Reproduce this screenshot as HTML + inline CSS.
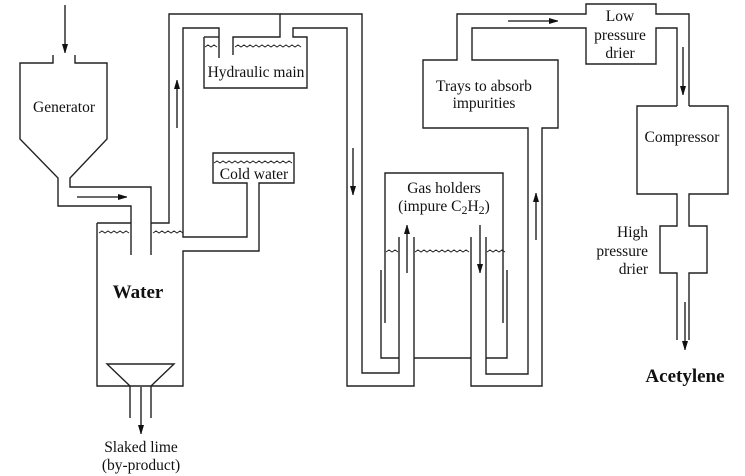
<!DOCTYPE html>
<html><head><meta charset="utf-8"><style>
html,body{margin:0;padding:0;background:#fff;}
svg{display:block;}
text{font-family:"Liberation Serif",serif;font-size:15.5px;fill:#111;}
</style></head><body>
<svg width="745" height="476" viewBox="0 0 745 476" xmlns="http://www.w3.org/2000/svg">
<defs><marker id="a" markerWidth="8" markerHeight="10" refX="9" refY="4" orient="auto" markerUnits="userSpaceOnUse"><path d="M0,1 L10,4 L0,7 Z" fill="#111"/></marker></defs>
<g fill="none" stroke="#222" stroke-width="1.4">
<polyline points="53,55 53,63 20,63 20,139 58,178 58,206 131,206 131,255"/>
<polyline points="75,55 75,63 107,63 107,139 70,178 70,187 151,187 151,255"/>
<polyline points="97,223 131,223"/>
<polyline points="97,223 97,386 183,386 183,251 259,251 259,183 294,183 294,153 213,153 213,183 247,183 247,237 183,237 183,28 219,28 219,58"/>
<polyline points="151,223 169,223 169,14 280,14 280,37 233,37 233,55"/>
<polyline points="130,418 130,386 107,364 174,364 151,386 151,418"/>
<polyline points="204,37 219,37"/>
<polyline points="204,37 204,88 307,88 307,37 293,37 293,28 347,28 347,386 414,386 414,237"/>
<polyline points="280,14 362,14 362,373 399,373 399,237"/>
<polyline points="385,323 385,173 503,173 503,323"/>
<polyline points="381,270 381,358 399,358"/>
<polyline points="414,358 471,358"/>
<polyline points="486,358 507,358 507,270"/>
<polyline points="471,237 471,386 542,386 542,128 558,128 558,60 472,60 472,28 586,28 586,64 656,64 656,28 677,28 677,106"/>
<polyline points="486,237 486,374 528,374 528,128 423,128 423,60 457,60 457,14 586,14 586,4 656,4 656,14 689,14 689,106"/>
<polyline points="677,106 637,106 637,194 677,194 677,226 660,226 660,273 677,273 677,340"/>
<polyline points="689,106 728,106 728,194 689,194 689,226 707,226 707,273 689,273 689,340"/>
</g>
<g fill="none" stroke="#222" stroke-width="1">
<path d="M99,233 l3,-2 l3,2 l3,-2 l3,2 l3,-2 l3,2 l3,-2 l3,2 l3,-2 l3,2"/>
<path d="M153,233 l3,-2 l3,2 l3,-2 l3,2 l3,-2 l3,2 l3,-2 l3,2 l3,-2 l3,2"/>
<path d="M205,47 l3,-2 l3,2 l3,-2 l3,2"/>
<path d="M235,47 l3,-2 l3,2 l3,-2 l3,2 l3,-2 l3,2 l3,-2 l3,2 l3,-2 l3,2 l3,-2 l3,2 l3,-2 l3,2 l3,-2 l3,2 l3,-2 l3,2 l3,-2 l3,2 l3,-2 l3,2"/>
<path d="M214,163 l3,-2 l3,2 l3,-2 l3,2 l3,-2 l3,2 l3,-2 l3,2 l3,-2 l3,2 l3,-2 l3,2 l3,-2 l3,2 l3,-2 l3,2 l3,-2 l3,2 l3,-2 l3,2 l3,-2 l3,2 l3,-2 l3,2 l3,-2 l3,2"/>
<path d="M386,252 l3,-2 l3,2 l3,-2 l3,2"/>
<path d="M415,252 l3,-2 l3,2 l3,-2 l3,2 l3,-2 l3,2 l3,-2 l3,2 l3,-2 l3,2 l3,-2 l3,2 l3,-2 l3,2 l3,-2 l3,2 l3,-2 l3,2"/>
<path d="M487,252 l3,-2 l3,2 l3,-2 l3,2 l3,-2 l3,2"/>
</g>
<g stroke="#111" stroke-width="1.3" marker-end="url(#a)">
<line x1="65" y1="5" x2="65" y2="53"/>
<line x1="77" y1="197" x2="127" y2="197"/>
<line x1="177" y1="128" x2="177" y2="80"/>
<line x1="141" y1="387" x2="141" y2="434"/>
<line x1="353" y1="148" x2="353" y2="195"/>
<line x1="407" y1="273" x2="407" y2="225"/>
<line x1="480" y1="225" x2="480" y2="273"/>
<line x1="536" y1="240" x2="536" y2="193"/>
<line x1="508" y1="21" x2="558" y2="21"/>
<line x1="683" y1="47" x2="683" y2="95"/>
<line x1="685" y1="302" x2="685" y2="350"/>
</g>
<g text-anchor="middle">
<text x="64" y="112">Generator</text>
<text x="256" y="77">Hydraulic main</text>
<text x="254" y="179">Cold water</text>
<text x="138" y="298" style="font-weight:bold;font-size:19px">Water</text>
<text x="141" y="452">Slaked lime</text>
<text x="141" y="470">(by-product)</text>
<text x="484" y="91">Trays to absorb</text>
<text x="484" y="108">impurities</text>
<text x="620" y="21">Low</text>
<text x="620" y="40">pressure</text>
<text x="620" y="58">drier</text>
<text x="682" y="142">Compressor</text>
<text x="444" y="193">Gas holders</text>
<text x="444" y="211">(impure C<tspan font-size="12" dy="3">2</tspan><tspan dy="-3">H</tspan><tspan font-size="12" dy="3">2</tspan><tspan dy="-3">)</tspan></text>
<text x="685" y="382" style="font-weight:bold;font-size:19px">Acetylene</text>
</g>
<g text-anchor="end">
<text x="648" y="237">High</text>
<text x="648" y="256">pressure</text>
<text x="648" y="274">drier</text>
</g>
</svg>
</body></html>
